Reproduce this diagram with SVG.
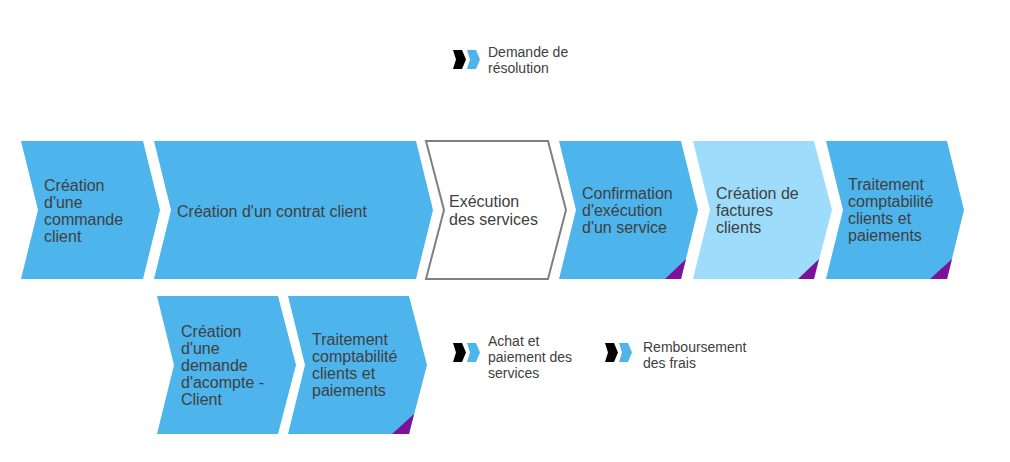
<svg xmlns="http://www.w3.org/2000/svg" width="1010" height="462" viewBox="0 0 1010 462">
<style>
.b{fill:#4DB4EC}
.l{fill:#9DDDFB}
.w{fill:#FFFFFF;stroke:#7F7F7F;stroke-width:2}
.p{fill:#7D1199}
.t{font-family:"Liberation Sans",Arial,sans-serif;font-size:16px;fill:#404040}
.s{font-family:"Liberation Sans",Arial,sans-serif;font-size:14px;fill:#404040}
</style>
<defs>
<g id="icon">
<path d="M0,0 L9,0 L13,9.5 L9,19 L0,19 L3,9.5 Z" fill="#000000"/>
<path d="M14,0 L23,0 L27,9.5 L23,19 L14,19 L17,9.5 Z" fill="#4DB4EC"/>
</g>
</defs>
<rect width="1010" height="462" fill="#FFFFFF"/>
<g id="connectors"></g>
<g id="n1">
<path class="b" d="M21,141 L143,141 L160,210 L143,279 L21,279 L38,210 Z"/>
<text class="t" x="44" y="191">Création</text>
<text class="t" x="44" y="208">d'une</text>
<text class="t" x="44" y="225">commande</text>
<text class="t" x="44" y="242">client</text>
</g>
<g id="n2">
<path class="b" d="M154,141 L416,141 L433,210 L416,279 L154,279 L171,210 Z"/>
<text class="t" x="177" y="217">Création d'un contrat client</text>
</g>
<g id="n3">
<path class="w" d="M426,141 L548,141 L566,210 L548,279 L426,279 L444,210 Z"/>
<text class="t" x="449" y="207">Exécution</text>
<text class="t" x="449" y="225">des services</text>
</g>
<g id="n4">
<path class="b" d="M559,141 L681,141 L698,210 L681,279 L559,279 L576,210 Z"/>
<path class="p" d="M665,279 L681,279 L686,259 Z"/>
<text class="t" x="582" y="199">Confirmation</text>
<text class="t" x="582" y="216">d'exécution</text>
<text class="t" x="582" y="233">d'un service</text>
</g>
<g id="n5">
<path class="l" d="M693,141 L814,141 L832,210 L814,279 L693,279 L710,210 Z"/>
<path class="p" d="M798,279 L814,279 L819,259 Z"/>
<text class="t" x="716" y="199">Création de</text>
<text class="t" x="716" y="216">factures</text>
<text class="t" x="716" y="233">clients</text>
</g>
<g id="n6">
<path class="b" d="M826,141 L947,141 L964,210 L947,279 L826,279 L843,210 Z"/>
<path class="p" d="M930,279 L947,279 L952,259 Z"/>
<text class="t" x="848" y="190">Traitement</text>
<text class="t" x="848" y="207">comptabilité</text>
<text class="t" x="848" y="224">clients et</text>
<text class="t" x="848" y="241">paiements</text>
</g>
<g id="n7">
<path class="b" d="M157,296 L278,296 L296,365 L278,434 L157,434 L174,365 Z"/>
<text class="t" x="181" y="337">Création</text>
<text class="t" x="181" y="354">d'une</text>
<text class="t" x="181" y="371">demande</text>
<text class="t" x="181" y="388">d'acompte -</text>
<text class="t" x="181" y="405">Client</text>
</g>
<g id="n8">
<path class="b" d="M288,296 L409,296 L427,365 L409,434 L288,434 L305,365 Z"/>
<path class="p" d="M392,434 L409,434 L414,414 Z"/>
<text class="t" x="312" y="345">Traitement</text>
<text class="t" x="312" y="362">comptabilité</text>
<text class="t" x="312" y="379">clients et</text>
<text class="t" x="312" y="396">paiements</text>
</g>
<g id="legend1">
<use href="#icon" x="453" y="50"/>
<text class="s" x="488" y="57">Demande de</text>
<text class="s" x="488" y="73">résolution</text>
</g>
<g id="legend2">
<use href="#icon" x="453" y="343"/>
<text class="s" x="488" y="346">Achat et</text>
<text class="s" x="488" y="362">paiement des</text>
<text class="s" x="488" y="378">services</text>
</g>
<g id="legend3">
<use href="#icon" x="605" y="343"/>
<text class="s" x="643" y="352">Remboursement</text>
<text class="s" x="643" y="368">des frais</text>
</g>
</svg>
